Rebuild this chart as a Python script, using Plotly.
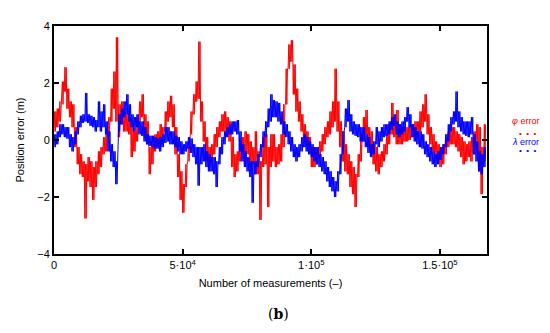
import plotly.graph_objects as go

# sample positions every 1000 measurements; each sample has a low and high envelope value
step = 1000
phi_lo = [0.3, 0.45, 0.65, 1.25, 1.7, 1.1, 0.8, 0.45, -0.25, -0.85, -1.2, -1.3, -2.75, -1.45, -1.65, -2.1, -1.65, -1.2, -0.95, -0.5, -0.4, 0.1, 0.65, 1.1, 0.65, 0.1, 0.55, 0.3, 0.3, 0.2, -0.6, -0.4, -0.05, 0.65, 0.8, 0.1, -0.15, -1.2, -0.85, -0.4, -0.25, -0.15, -0.15,
          0.3, 0.65, 0.8, 0.45, -0.5, -1.3, -2.1, -2.55, -1.65, -0.75, 0.2, 0.9, 1.35, 1.45, 0.65, -0.05, -0.75, -0.95, -0.75, -0.5, -0.25, 0.1, 0.3, 0.3, 0.3, -0.05, -0.95, -1.3, -1.1, -0.75, -0.5, -0.85, -0.5, -0.95, -0.85, -1.2, -1.2, -2.8, -0.95, -0.85, -2.35,
          -0.95, -0.75, -0.95, -0.85, -0.75, -0.25, 1.25, 2.5, 2.75, 1.6, 1.0, 0.65, 0.3, -0.05, -0.25, -0.5, -0.95, -0.95, -0.85, -0.6, -0.4, -0.15, 0.1, 0.2, 0.45, 0.65, 0.3, -0.25, -0.75, -1.1, -1.2, -1.65, -1.9, -2.35, -1.3, -0.75, -0.05, 0.2, -0.25, -0.5, -0.85, -1.1,
          -1.2, -0.95, -0.75, -0.5, -0.15, 0.2, 0.1, -0.15, -0.15, -0.15, -0.05, -0.05, 0.0, 0.1, 0.1, 0.2, 0.3, 0.45, 0.65, 0.2, -0.15, -0.4, -0.6, -0.75, -0.95, -0.85, -0.5, -0.25, -0.15, -0.15, -0.25, -0.4, -0.6, -0.85, -0.75, -0.6, -0.75, -0.5, -0.25, -1.1, -1.9, -0.75]
phi_hi = [1.0, 1.1, 1.35, 2.05, 2.55, 1.8, 1.35, 1.25, 0.45, -0.25, -0.5, -0.75, -0.85, -0.6, -0.75, -0.95, -0.75, -0.4, -0.25, 0.1, 0.3, 0.8, 1.8, 2.4, 3.6, 1.25, 1.35, 1.0, 0.9, 0.8, 0.45, 0.3, 0.8, 1.35, 1.6, 0.9, 0.65, -0.25, -0.05, 0.2, 0.3, 0.55, 0.45,
          1.0, 1.35, 1.55, 1.25, 0.45, -0.5, -1.1, -1.55, -0.85, -0.05, 1.0, 1.6, 2.05, 3.45, 1.35, 0.65, 0.1, -0.25, -0.15, 0.2, 0.45, 0.65, 0.9, 1.0, 0.8, 0.65, 0.1, -0.5, -0.4, -0.05, 0.1, 0.3, 0.2, -0.05, -0.25, 0.3, -0.4, -0.75, 0.1, 0.2, -0.25,
          0.2, 0.2, -0.25, -0.15, 0.2, 1.25, 2.5, 3.35, 3.5, 2.65, 1.8, 1.35, 0.9, 0.55, 0.3, 0.1, -0.25, -0.4, -0.25, -0.05, 0.2, 0.45, 0.65, 1.0, 1.35, 2.5, 1.35, 0.65, 0.3, -0.15, -0.5, -0.75, -0.95, -1.2, -0.5, 0.2, 0.8, 1.05, 0.45, 0.3, -0.15, -0.25,
          -0.5, -0.4, -0.15, 0.2, 0.55, 1.3, 0.8, 1.05, 0.55, 0.45, 0.45, 0.45, 0.5, 0.55, 0.65, 0.65, 1.0, 1.25, 1.6, 0.9, 0.45, 0.2, -0.05, -0.15, -0.25, -0.15, 0.1, 0.3, 0.45, 0.45, 0.3, 0.2, 0.1, -0.05, -0.15, -0.05, 0.1, 0.3, 0.55, 0.45, -0.25, 0.55]
lam_lo = [-0.25, -0.15, 0.1, 0.2, 0.1, 0.05, -0.25, -0.4, -0.15, 0.2, 0.45, 0.6, 0.65, 0.6, 0.5, 0.45, 0.3, 0.45, 0.3, 0.45, 0.2, -0.4, -0.75, -0.95, -1.55, 0.3, 0.55, 0.8, 0.9, 0.65, 0.45, 0.3, 0.45, 0.2, 0.15, -0.05, -0.15, -0.2, -0.25, -0.3, -0.3, -0.4, -0.25,
          -0.1, -0.05, -0.15, -0.15, -0.25, -0.4, -0.5, -0.5, -0.4, -0.3, -0.45, -0.6, -0.85, -1.6, -0.85, -0.75, -0.95, -1.1, -1.1, -1.2, -1.65, -0.85, -0.5, -0.15, 0.1, 0.2, 0.2, 0.3, 0.2, -0.4, -0.75, -0.95, -1.1, -1.3, -2.2, -1.2, -0.95, -0.6, -0.25, 0.1, 0.45,
          0.65, 0.8, 0.8, 0.65, 0.55, 0.2, 0.1, -0.15, -0.4, -0.6, -0.75, -0.6, -0.4, -0.25, -0.4, -0.5, -0.6, -0.75, -0.85, -0.95, -1.1, -1.2, -1.45, -1.65, -1.8, -2.0, -1.8, -1.2, -0.5, 0.45, 0.65, 0.3, 0.2, 0.15, 0.1, -0.05, -0.05, -0.25, -0.45, -0.6, -0.5, -0.15,
          -0.25, -0.05, 0.1, 0.15, 0.2, 0.35, 0.5, 0.2, 0.1, 0.2, 0.3, 0.65, 0.45, 0.1, -0.05, -0.15, -0.25, -0.3, -0.5, -0.6, -0.75, -0.85, -0.95, -0.85, -0.7, -0.5, -0.25, -0.05, 0.3, 0.55, 0.65, 0.45, 0.3, 0.2, 0.15, 0.1, 0.2, -0.5, -0.75, -1.1, -1.2, -0.95]
lam_hi = [0.2, 0.3, 0.55, 0.55, 0.45, 0.45, 0.2, 0.1, 0.3, 0.65, 0.85, 0.9, 1.65, 0.9, 0.85, 0.8, 0.7, 1.35, 1.0, 1.25, 0.65, 0.3, -0.15, -0.4, -0.75, 0.9, 1.1, 1.35, 1.6, 1.25, 0.9, 0.8, 0.9, 0.65, 0.65, 0.45, 0.2, 0.15, 0.15, 0.1, 0.05, 0.1, 0.2,
          0.45, 0.45, 0.3, 0.3, 0.15, 0.1, -0.05, -0.15, -0.05, 0.1, 0.05, -0.15, -0.25, -0.25, -0.25, -0.15, -0.4, -0.5, -0.6, -0.6, -0.75, -0.25, 0.1, 0.3, 0.45, 0.55, 0.65, 0.65, 0.7, 0.3, -0.15, -0.4, -0.6, -0.75, -0.75, -0.75, -0.5, -0.15, 0.3, 0.65, 1.1,
          1.6, 1.4, 1.35, 1.3, 1.0, 0.65, 0.55, 0.3, 0.1, -0.15, -0.25, -0.15, 0.1, 0.2, 0.1, -0.05, -0.15, -0.25, -0.25, -0.5, -0.6, -0.75, -0.95, -1.1, -1.3, -1.45, -1.1, -0.5, 0.3, 1.1, 1.4, 0.9, 0.65, 0.55, 0.55, 0.45, 0.45, 0.2, 0.1, -0.15, -0.05, 0.45,
          0.3, 0.45, 0.55, 0.55, 0.65, 0.8, 0.9, 0.65, 0.55, 0.65, 0.8, 1.15, 0.9, 0.55, 0.45, 0.3, 0.3, 0.2, -0.05, -0.15, -0.25, -0.4, -0.5, -0.4, -0.25, -0.15, 0.2, 0.55, 0.8, 1.0, 1.7, 1.0, 0.8, 0.65, 0.65, 0.65, 0.8, 0.2, -0.05, -0.4, -0.5, -0.25]

x_tickvals = [0, 50000, 100000, 150000]
x_ticktext = ["0", "5·10<sup>4</sup>", "1·10<sup>5</sup>", "1.5·10<sup>5</sup>"]
y_tickvals = [-4, -2, 0, 2, 4]
y_ticktext = ["\u22124", "\u22122", "0", "2", "4"]


def zigzag(lo, hi):
    # the measured signal swings between its low and high envelope within each sample window
    xs, ys = [], []
    n = min(len(lo), len(hi))
    for i in range(n):
        base = i * step
        xs += [base, base + step / 4, base + step / 2, base + 3 * step / 4]
        ys += [lo[i], hi[i], lo[i], hi[i]]
    return xs, ys


fig = go.Figure()
px_, py_ = zigzag(phi_lo, phi_hi)
lx_, ly_ = zigzag(lam_lo, lam_hi)
fig.add_trace(go.Scatter(x=px_, y=py_, mode="lines", line=dict(color="#FF0000", width=1), showlegend=False))
fig.add_trace(go.Scatter(x=lx_, y=ly_, mode="lines", line=dict(color="#0000FF", width=1), showlegend=False))

font = "Liberation Sans, Arial, sans-serif"
fig.update_layout(
    width=542, height=325,
    margin=dict(l=45, r=63, t=16, b=79),
    paper_bgcolor="white", plot_bgcolor="white",
    font=dict(family=font, size=11, color="black"),
    xaxis=dict(range=[0, 168300], tickvals=x_tickvals, ticktext=x_ticktext,
               ticks="inside", ticklen=5, tickwidth=1.5, tickcolor="black",
               showline=True, linecolor="black", linewidth=2, mirror="ticks",
               showgrid=False, zeroline=False,
               title=dict(text="Number of measurements (\u2013)", font=dict(size=11), standoff=9)),
    yaxis=dict(range=[-4, 4], tickvals=y_tickvals, ticktext=y_ticktext,
               ticks="inside", ticklen=5, tickwidth=1.5, tickcolor="black",
               showline=True, linecolor="black", linewidth=2, mirror="ticks",
               showgrid=False, zeroline=False,
               title=dict(text="Position error (m)", font=dict(size=11), standoff=10)),
    annotations=[
        dict(xref="paper", yref="paper", x=1.054, y=0.583, xanchor="left", yanchor="middle",
             text="<i>φ</i> error", showarrow=False, font=dict(size=9, color="#FF0000")),
        dict(xref="paper", yref="paper", x=1.094, y=0.53, xanchor="center", yanchor="middle",
             text="•  •  •", showarrow=False, font=dict(size=8, color="#FF0000")),
        dict(xref="paper", yref="paper", x=1.054, y=0.491, xanchor="left", yanchor="middle",
             text="<i>λ</i> error", showarrow=False, font=dict(size=9, color="#0000FF")),
        dict(xref="paper", yref="paper", x=1.094, y=0.452, xanchor="center", yanchor="middle",
             text="•  •  •", showarrow=False, font=dict(size=8, color="#0000FF")),
        dict(xref="paper", yref="paper", x=0.518, y=-0.265, xanchor="center", yanchor="middle",
             text="(<b>b</b>)", showarrow=False, font=dict(family="DejaVu Serif, serif", size=14, color="black")),
    ],
)

fig.write_html("out.html")
